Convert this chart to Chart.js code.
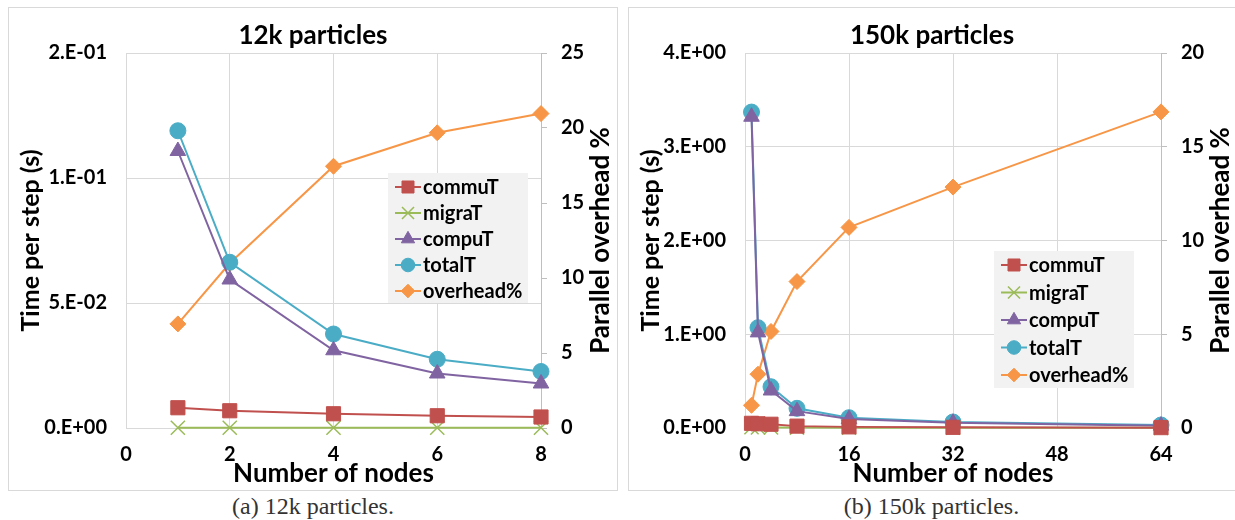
<!DOCTYPE html>
<html>
<head>
<meta charset="utf-8">
<script src="https://cdn.jsdelivr.net/npm/chart.js@4.4.1/dist/chart.umd.min.js"></script>
<style>
    body { margin: 0; background: #fff; width: 1235px; height: 520px; overflow: hidden; position: relative; }
    .panel { position: absolute; top: 7px; height: 484px; border: 1px solid #d9d9d9; box-sizing: border-box; }
    .panel canvas { position: absolute; left: 0; top: 0; }
    .caption { position: absolute; top: 493px; font-family: "Liberation Serif", serif; font-size: 24px; color: #333; text-align: center; }
</style>
</head>
<body>
<div class="panel" style="left:8px; width:610px;"><canvas id="chart12k" width="608" height="482"></canvas></div>
<div class="panel" style="left:628px; width:620px;"><canvas id="chart150k" width="606" height="482"></canvas></div>
<div class="caption" style="left:8px; width:610px;">(a) 12k particles.</div>
<div class="caption" style="left:628px; width:607px;">(b) 150k particles.</div>
<script>
// --- 12k particles ---
const nodes12k = [1, 2, 4, 6, 8];
const commuT12k = [0.0081, 0.0069, 0.0057, 0.0049, 0.0044];
const migraT12k = [0.0001, 0.0001, 0.0001, 0.0001, 0.0001];
const compuT12k = [0.1108, 0.0594, 0.0311, 0.0218, 0.0178];
const totalT12k = [0.1189, 0.0663, 0.0376, 0.0275, 0.0226];
const overhead12k = [6.94, 10.98, 17.45, 19.68, 20.96];
const timeTicks12k = ['0.E+00', '5.E-02', '1.E-01', '2.E-01'];

// --- 150k particles ---
const nodes150k = [1, 2, 4, 8, 16, 32, 64];
const commuT150k = [0.05, 0.045, 0.04, 0.02, 0.012, 0.007, 0.004];
const migraT150k = [0.008, 0.007, 0.006, 0.005, 0.004, 0.003, 0.002];
const compuT150k = [3.32, 1.02, 0.40, 0.18, 0.095, 0.055, 0.025];
const totalT150k = [3.37, 1.07, 0.44, 0.21, 0.11, 0.064, 0.032];
const overhead150k = [1.21, 2.87, 5.15, 7.81, 10.7, 12.85, 16.86];
const timeTicks150k = ['0.E+00', '1.E+00', '2.E+00', '3.E+00', '4.E+00'];

const FONT = 'Lato, "Open Sans", sans-serif';
const GRID = '#d9d9d9';
const COLORS = {
    commuT: '#c0504d',
    migraT: '#9bbb59',
    compuT: '#8064a2',
    totalT: '#4bacc6',
    overhead: '#f79646'
};

function series(label, xs, ys, color, style, radius, axis) {
    return {
        label: label,
        data: xs.map((x, i) => ({ x: x, y: ys[i] })),
        borderColor: color,
        backgroundColor: color,
        pointBackgroundColor: color,
        pointBorderColor: color,
        borderWidth: 2,
        pointStyle: style,
        pointRadius: radius,
        pointHoverRadius: radius,
        pointBorderWidth: style === 'crossRot' ? 1.5 : 1,
        clip: false,
        yAxisID: axis
    };
}

// legend drawn inside the plot area, Excel style
const insideLegend = {
    id: 'insideLegend',
    afterDraw(chart, args, opts) {
        const ctx = chart.ctx;
        const { x, y, w, h, row } = opts;
        ctx.save();
        ctx.fillStyle = '#f2f2f2';
        ctx.fillRect(x, y, w, h);
        ctx.font = 'bold 20px ' + FONT;
        ctx.textBaseline = 'middle';
        ctx.textAlign = 'left';
        chart.data.datasets.forEach((ds, i) => {
            const cy = y + 14 + i * row;
            ctx.strokeStyle = ds.borderColor;
            ctx.lineWidth = 2;
            ctx.beginPath();
            ctx.moveTo(x + 7, cy);
            ctx.lineTo(x + 33, cy);
            ctx.stroke();
            ctx.fillStyle = ds.backgroundColor;
            ctx.lineWidth = ds.pointBorderWidth;
            Chart.helpers.drawPoint(ctx, { pointStyle: ds.pointStyle, radius: ds.pointRadius * 0.85, borderWidth: ds.pointBorderWidth }, x + 20, cy);
            ctx.fillStyle = '#000';
            ctx.fillText(ds.label, x + 35, cy + 1);
        });
        // right axis title, reading bottom to top like the left one
        const area = chart.chartArea;
        ctx.font = 'bold 26px ' + FONT;
        ctx.textAlign = 'center';
        ctx.translate(opts.rightTitleX, (area.top + area.bottom) / 2);
        ctx.rotate(-Math.PI / 2);
        ctx.fillText(opts.rightTitle, 0, 0);
        ctx.restore();
    }
};

function makeChart(id, cfg) {
    const ticksFont = { family: FONT, size: 20, weight: 'bold' };
    const titleFont = { family: FONT, size: 26, weight: 'bold' };
    return new Chart(document.getElementById(id), {
        type: 'line',
        data: {
            datasets: [
                series('commuT', cfg.nodes, cfg.commuT, COLORS.commuT, 'rect', 10, 'y'),
                series('migraT', cfg.nodes, cfg.migraT, COLORS.migraT, 'crossRot', 10, 'y'),
                series('compuT', cfg.nodes, cfg.compuT, COLORS.compuT, 'triangle', 9, 'y'),
                series('totalT', cfg.nodes, cfg.totalT, COLORS.totalT, 'circle', 8, 'y'),
                series('overhead%', cfg.nodes, cfg.overhead, COLORS.overhead, 'rectRot', 8, 'y1')
            ]
        },
        options: {
            responsive: false,
            animation: false,
            layout: { padding: 0 },
            plugins: {
                legend: { display: false },
                tooltip: { enabled: false },
                title: {
                    display: true,
                    text: cfg.title,
                    color: '#000',
                    font: titleFont,
                    padding: { top: 12, bottom: 1.8 }
                },
                insideLegend: cfg.legend
            },
            scales: {
                x: {
                    type: 'linear',
                    min: 0,
                    max: cfg.xMax,
                    ticks: { stepSize: cfg.xStep, color: '#000', font: ticksFont, padding: 15 },
                    grid: { color: GRID, drawTicks: false },
                    border: { display: false },
                    title: { display: true, text: 'Number of nodes', color: '#000', font: titleFont, padding: { top: 0, bottom: 1 } },
                    afterFit: s => { s.height = 62; }
                },
                y: {
                    position: 'left',
                    min: 0,
                    max: cfg.yMax,
                    ticks: {
                        stepSize: cfg.yStep,
                        color: '#000',
                        font: ticksFont,
                        padding: 19,
                        callback: (v, i) => cfg.timeTicks[i]
                    },
                    grid: { color: GRID, drawTicks: false },
                    border: { color: GRID },
                    title: { display: true, text: 'Time per step (s)', color: '#000', font: { family: FONT, size: 25, weight: 'bold' }, padding: { top: 7, bottom: 0 } },
                    afterFit: s => { s.width = cfg.leftW; }
                },
                y1: {
                    position: 'right',
                    min: 0,
                    max: cfg.y1Max,
                    ticks: { stepSize: 5, color: '#000', font: ticksFont, padding: 14 },
                    grid: { drawOnChartArea: false, color: '#bfbfbf', tickLength: 6 },
                    border: { color: '#bfbfbf' },
                    afterFit: s => { s.width = cfg.rightW; }
                }
            }
        },
        plugins: [insideLegend]
    });
}

document.addEventListener('DOMContentLoaded', () => {
    makeChart('chart12k', {
        title: '12k particles',
        nodes: nodes12k,
        commuT: commuT12k, migraT: migraT12k, compuT: compuT12k, totalT: totalT12k, overhead: overhead12k,
        timeTicks: timeTicks12k,
        xMax: 8, xStep: 2, yMax: 0.15, yStep: 0.05, y1Max: 25,
        leftW: 117, rightW: 76,
        legend: { x: 379, y: 165, w: 140, h: 130, row: 26, rightTitleX: 592, rightTitle: 'Parallel overhead %' }
    });
    makeChart('chart150k', {
        title: '150k particles',
        nodes: nodes150k,
        commuT: commuT150k, migraT: migraT150k, compuT: compuT150k, totalT: totalT150k, overhead: overhead150k,
        timeTicks: timeTicks150k,
        xMax: 64, xStep: 16, yMax: 4, yStep: 1, y1Max: 20,
        leftW: 116, rightW: 74,
        legend: { x: 365, y: 243, w: 140, h: 137, row: 27.5, rightTitleX: 592, rightTitle: 'Parallel overhead %' }
    });
});
</script>
</body>
</html>
